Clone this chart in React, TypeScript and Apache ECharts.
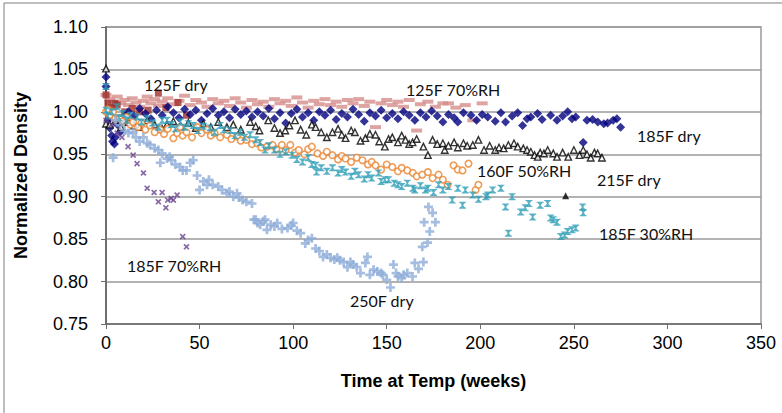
import React, { useEffect, useRef } from "react";
import * as echarts from "echarts";

const xTicks = [0, 50, 100, 150, 200, 250, 300, 350];
const yTicks = [0.75, 0.8, 0.85, 0.9, 0.95, 1.0, 1.05, 1.1];

const s185Fdry: number[][] = [
  [0, 1.041], [0, 1.03], [1, 0.99], [2, 0.981], [3, 0.972], [3.5, 0.965], [4.5, 0.962], [5, 0.97], [6, 0.985], [7.5, 0.976],
  [9, 0.99], [10, 0.996], [12, 1.0], [15, 0.995], [18, 1.004], [21, 0.998], [24, 0.992], [27, 1.002], [30, 0.996], [33, 1.006],
  [36, 0.999], [39, 0.993], [42, 1.003], [45, 0.997], [48, 1.002], [51, 0.99], [54, 0.998], [57, 1.004], [60, 0.996], [63, 1.0],
  [66, 0.993], [69, 1.003], [72, 0.997], [75, 1.001], [78, 0.994], [81, 1.0], [84, 0.995], [87, 1.004], [90, 0.992], [93, 0.999],
  [96, 0.987], [99, 0.998], [102, 1.003], [105, 0.994], [108, 0.999], [111, 0.99], [114, 1.0], [117, 0.996], [120, 1.002], [123, 0.991],
  [126, 0.998], [129, 0.994], [132, 1.003], [135, 0.997], [138, 0.989], [141, 0.999], [144, 0.995], [147, 1.002], [150, 0.993], [153, 0.998],
  [156, 0.992], [159, 1.0], [162, 0.996], [165, 0.99], [168, 0.999], [171, 0.994], [174, 1.001], [177, 0.995], [180, 0.988], [183, 0.997],
  [186, 0.993], [188, 0.988], [191, 0.999], [195, 0.996], [198, 0.99], [201, 0.997], [204, 0.994], [208, 0.989], [211, 0.999], [213.5, 0.988],
  [217, 0.995], [220, 0.999], [222.6, 0.984], [225, 0.992], [227, 0.994], [230.6, 0.998], [233, 0.991], [237.6, 0.996], [241, 0.99], [244, 0.995],
  [246.7, 1.0], [249, 0.992], [251, 0.994], [255, 0.964], [257, 0.99], [260, 0.991], [262.8, 0.988], [266, 0.986], [268, 0.987], [271, 0.99],
  [273, 0.992], [275, 0.982],
];

const s125Fdry: number[][] = [
  [0, 1.02], [1, 1.01], [3, 1.005], [4.8, 1.01], [6, 1.008], [10, 1.0], [14, 1.004], [18, 1.0], [22.5, 1.002], [28, 1.022],
  [32, 1.005], [38.5, 1.011], [43, 0.996],
];

const s125F70RH: number[][] = [
  [0, 1.02], [2, 1.015], [4, 1.012], [6, 1.018], [8, 1.01], [10, 1.014], [12, 1.008], [14, 1.016], [16, 1.011], [18, 1.006],
  [20, 1.013], [22, 1.018], [24, 1.01], [26, 1.015], [28, 1.007], [30, 1.012], [33, 1.016], [36, 1.009], [39, 1.013], [42, 1.019],
  [45, 1.008], [48, 1.014], [51, 1.011], [54, 1.006], [57, 1.015], [60, 1.01], [63, 1.013], [66, 1.007], [69, 1.016], [72, 1.011],
  [75, 1.005], [78, 1.014], [81, 1.009], [84, 1.012], [87, 1.006], [90, 1.015], [93, 1.01], [96, 1.013], [99, 1.007], [102, 1.017],
  [105, 1.011], [108, 1.005], [111, 1.013], [114, 1.009], [117, 1.015], [120, 1.008], [123, 1.012], [126, 1.006], [129, 1.014], [132, 1.01],
  [135, 1.015], [138, 1.007], [141, 1.012], [144, 0.982], [147, 1.01], [150, 1.014], [153, 1.008], [156, 1.012], [159, 1.006], [162, 1.014],
  [166, 0.978], [168, 1.009], [172, 1.012], [176, 1.006], [180, 1.01], [183, 1.01], [187, 1.005], [192, 1.008], [196, 0.99], [201, 1.01],
];

const s215Fdry: number[][] = [
  [0, 1.051], [0, 0.986], [2, 0.985], [5, 0.99], [8, 0.982], [12, 0.988], [15, 0.984], [18, 0.982], [22, 0.99], [26, 0.985],
  [30, 0.98], [32.6, 0.985], [36, 0.989], [40, 0.983], [44, 0.987], [48, 0.981], [52, 0.986], [56, 0.982], [60, 0.988], [64.6, 0.982],
  [68, 0.985], [72, 0.979], [77, 0.988], [80, 0.983], [82, 0.978], [86.7, 0.99], [90, 0.981], [93, 0.975], [95.8, 0.978], [98, 0.984],
  [101, 0.99], [104, 0.979], [107, 0.973], [110, 0.985], [112, 0.982], [115, 0.976], [118, 0.97], [121, 0.976], [124, 0.98], [126, 0.973],
  [128, 0.969], [131, 0.978], [133, 0.976], [136, 0.966], [138.6, 0.969], [141, 0.974], [144, 0.973], [146, 0.965], [149, 0.959], [151, 0.968],
  [153, 0.97], [156, 0.964], [158, 0.972], [160, 0.967], [162, 0.962], [163.8, 0.964], [166, 0.968], [169.6, 0.959], [172, 0.949], [174.5, 0.967],
  [177, 0.962], [180, 0.963], [181, 0.955], [183, 0.96], [186, 0.964], [188, 0.958], [191, 0.963], [193, 0.96], [196, 0.961], [199, 0.967],
  [202, 0.955], [205, 0.96], [208, 0.955], [210, 0.958], [212.5, 0.957], [215, 0.961], [218, 0.963], [220, 0.959], [223, 0.957], [225, 0.955],
  [227, 0.953], [229, 0.949], [230.7, 0.947], [232, 0.952], [234, 0.951], [236, 0.955], [239, 0.951], [241, 0.947], [244, 0.952], [247, 0.947],
  [250, 0.955], [253, 0.949], [255, 0.955], [257, 0.95], [259, 0.946], [261, 0.952], [262.7, 0.951], [265, 0.946],
];

const s215FdryFilled: number[][] = [[245.6, 0.901]];

const s160F50RH: number[][] = [
  [0, 1.0], [1, 1.003], [2, 0.996], [3.8, 1.0], [5, 0.992], [7.5, 0.993], [9, 0.989], [11, 0.994], [13, 0.985], [14.5, 0.988],
  [17, 0.982], [19, 0.987], [21, 0.979], [23.5, 0.984], [26, 0.976], [29, 0.979], [31, 0.974], [33, 0.98], [36, 0.969], [38, 0.975],
  [39.6, 0.982], [41, 0.972], [43, 0.976], [46, 0.97], [48.7, 0.982], [51, 0.975], [54, 0.979], [56, 0.972], [58, 0.975], [61, 0.97],
  [64.6, 0.973], [67, 0.968], [70, 0.971], [72, 0.966], [75, 0.967], [78, 0.962], [80.8, 0.963], [83, 0.958], [86, 0.959], [89, 0.961],
  [91, 0.956], [94, 0.961], [96, 0.955], [98.5, 0.961], [101, 0.952], [103, 0.955], [106, 0.95], [108, 0.956], [110, 0.959], [113, 0.951],
  [116, 0.948], [118, 0.953], [121, 0.949], [124, 0.944], [126, 0.948], [128, 0.945], [131, 0.941], [134, 0.946], [137, 0.943], [140, 0.938],
  [142, 0.941], [144, 0.937], [147, 0.932], [150, 0.938], [153, 0.935], [156, 0.93], [158, 0.934], [161, 0.931], [164, 0.928], [166, 0.924],
  [169, 0.926], [172, 0.929], [174.5, 0.922], [177.7, 0.926], [180, 0.92], [182.5, 0.914], [185.7, 0.937], [188, 0.932], [190.5, 0.931], [193.7, 0.939],
  [197.5, 0.908], [199, 0.914],
];

const s185F30RH: number[][] = [
  [0, 1.03], [0, 1.002], [1, 0.995], [3, 1.0], [5.8, 1.006], [7, 0.993], [9, 0.998], [11, 0.99], [13, 0.996], [16.6, 0.994],
  [19, 0.988], [22, 0.992], [25, 0.987], [28, 0.982], [30, 0.99], [32.6, 0.99], [35, 0.985], [37, 0.98], [39.6, 0.988], [42, 0.982],
  [44, 0.986], [46.6, 0.984], [49, 0.978], [52, 0.983], [55.7, 0.981], [58, 0.976], [61, 0.984], [63, 0.979], [66.4, 0.978], [69, 0.972],
  [71.7, 0.976], [74, 0.97], [77, 0.973], [80, 0.967], [82.4, 0.964], [85, 0.955], [87, 0.96], [90, 0.955], [93, 0.95], [96, 0.953],
  [99.5, 0.949], [102, 0.944], [105, 0.941], [108, 0.946], [110, 0.938], [112, 0.937], [112.5, 0.929], [115, 0.934], [118, 0.93], [121, 0.934],
  [124, 0.928], [126, 0.932], [128, 0.929], [131, 0.924], [133, 0.93], [135, 0.926], [138, 0.921], [140, 0.926], [142, 0.922], [145.6, 0.928],
  [147, 0.918], [149, 0.92], [151, 0.92], [154, 0.916], [156, 0.914], [158, 0.912], [161, 0.916], [164, 0.91], [165, 0.908], [168, 0.913],
  [170.7, 0.908], [172, 0.91], [175, 0.905], [177.7, 0.914], [180, 0.908], [183, 0.912], [185, 0.896], [188, 0.91], [190.5, 0.89], [192, 0.908],
  [196, 0.902], [199, 0.897], [203, 0.9], [204, 0.902], [206.6, 0.908], [211, 0.91], [213.5, 0.888], [215, 0.857], [217, 0.9], [221.6, 0.882],
  [224, 0.887], [226, 0.892], [228, 0.876], [232, 0.89], [236, 0.892], [237.6, 0.875], [239, 0.873], [241, 0.87], [243, 0.853], [245, 0.855],
  [246.7, 0.859], [249, 0.861], [251, 0.863], [254.7, 0.888], [255, 0.881],
];

const s185F70RH: number[][] = [
  [0, 0.99], [3, 0.985], [6, 0.975], [8.5, 0.97], [11.8, 0.959], [14.5, 0.949], [16.6, 0.939], [20, 0.928], [22, 0.91], [25.7, 0.905],
  [28, 0.894], [30, 0.905], [32, 0.887], [33, 0.896], [34.8, 0.898], [36, 0.896], [38, 0.902], [41, 0.853], [43, 0.841],
];

const s250Fdry: number[][] = [
  [3.8, 0.946], [5, 0.99], [7.5, 0.984], [10, 0.978], [12, 0.975], [14.5, 0.976], [16, 0.97], [18, 0.965], [20, 0.97], [22, 0.963],
  [23.5, 0.961], [26, 0.957], [28, 0.955], [29, 0.94], [30, 0.951], [32.6, 0.945], [34, 0.947], [35, 0.943], [37, 0.938], [39.6, 0.935],
  [41, 0.931], [43, 0.931], [45, 0.94], [46.6, 0.943], [48.7, 0.925], [50, 0.908], [52, 0.918], [54, 0.914], [55, 0.92], [57, 0.914],
  [60, 0.912], [62, 0.908], [64.6, 0.904], [66, 0.906], [68, 0.9], [70, 0.904], [71, 0.899], [73, 0.896], [75, 0.894], [78, 0.892],
  [79, 0.873], [80, 0.873], [81, 0.869], [82.4, 0.867], [84, 0.871], [85, 0.873], [86, 0.861], [88, 0.867], [90, 0.865], [91.5, 0.869],
  [94, 0.862], [97, 0.863], [99, 0.866], [100, 0.869], [102, 0.86], [104, 0.857], [106.5, 0.845], [108, 0.849], [110, 0.851], [112, 0.839],
  [114, 0.836], [116, 0.829], [118, 0.832], [120, 0.828], [122, 0.826], [123.6, 0.828], [125, 0.825], [127, 0.823], [129, 0.817], [130.6, 0.823],
  [132, 0.82], [134, 0.817], [136, 0.81], [138.6, 0.822], [139.7, 0.829], [141, 0.808], [143, 0.814], [145, 0.812], [147, 0.81], [148, 0.808],
  [150, 0.802], [152, 0.793], [153.6, 0.82], [155, 0.81], [156, 0.806], [158, 0.804], [159, 0.808], [161, 0.81], [163.8, 0.806], [165, 0.822],
  [167, 0.815], [169, 0.841], [169.6, 0.823], [170, 0.87], [171.8, 0.846], [172.3, 0.888], [173, 0.859], [174.5, 0.881], [176, 0.87],
];

const annotations = [
  { text: "125F dry", x: 144, y: 84 },
  { text: "125F 70%RH", x: 406, y: 89 },
  { text: "185F dry", x: 637, y: 135 },
  { text: "160F 50%RH", x: 477, y: 170 },
  { text: "215F dry", x: 597, y: 179 },
  { text: "185F 30%RH", x: 599, y: 233 },
  { text: "185F 70%RH", x: 127, y: 265 },
  { text: "250F dry", x: 350, y: 300 },
];

const PLUS = "path://M3.5,0 H6.5 V3.5 H10 V6.5 H6.5 V10 H3.5 V6.5 H0 V3.5 H3.5 Z";
const XMARK = "path://M3.8,0 H6.2 V3.8 H10 V6.2 H6.2 V10 H3.8 V6.2 H0 V3.8 H3.8 Z";
const STAR = "path://M0,0 H10 V1.6 H8.6 L5.9,5 L8.6,8.4 H10 V10 H0 V8.4 H1.4 L4.1,5 L1.4,1.6 H0 Z";

export default function App() {
  const ref = useRef<HTMLDivElement>(null);
  useEffect(() => {
    if (!ref.current) return;
    const chart = echarts.init(ref.current, null, { renderer: "svg" });
    const tickFont = { fontFamily: "Liberation Sans, Arial, sans-serif", fontSize: 18, color: "#000" };
    chart.setOption({
      animation: false,
      backgroundColor: "#fff",
      grid: { left: 106, right: 21, top: 27, bottom: 89, show: true, borderColor: "#9a9a9a", borderWidth: 1.5 },
      xAxis: {
        type: "value",
        min: 0,
        max: 350,
        interval: 50,
        name: "Time at Temp (weeks)",
        nameLocation: "middle",
        nameGap: 48,
        nameTextStyle: { fontFamily: "Liberation Sans, Arial, sans-serif", fontSize: 18, fontWeight: "bold", color: "#000" },
        axisLine: { show: true, onZero: false, lineStyle: { color: "#6e6e6e", width: 1.5 } },
        axisTick: { show: true, length: 5, lineStyle: { color: "#6e6e6e" } },
        axisLabel: { ...tickFont, margin: 10, formatter: (v: number) => (xTicks.includes(v) ? String(v) : "") },
        splitLine: { show: false },
      },
      yAxis: {
        type: "value",
        min: 0.75,
        max: 1.1,
        interval: 0.05,
        name: "Normalized Density",
        nameLocation: "middle",
        nameGap: 76,
        nameRotate: 90,
        nameTextStyle: { fontFamily: "Liberation Sans, Arial, sans-serif", fontSize: 18, fontWeight: "bold", color: "#000" },
        axisLine: { show: true, onZero: false, lineStyle: { color: "#6e6e6e", width: 2 } },
        axisTick: { show: true, length: 5, lineStyle: { color: "#6e6e6e" } },
        axisLabel: {
          ...tickFont,
          margin: 18,
          formatter: (v: number) => {
            const t = yTicks.find((k) => Math.abs(k - v) < 1e-6);
            return t === undefined ? "" : t.toFixed(2);
          },
        },
        splitLine: { show: true, lineStyle: { color: "#9a9a9a", width: 1.5 } },
      },
      series: [
        {
          name: "125F 70%RH", type: "scatter", data: s125F70RH, symbol: "rect", symbolSize: [11, 4],
          itemStyle: { color: "#d58d8b" },
        },
        {
          name: "125F dry", type: "scatter", data: s125Fdry, symbol: "rect", symbolSize: 7,
          itemStyle: { color: "#a0302c" },
        },
        {
          name: "185F dry", type: "scatter", data: s185Fdry, symbol: "diamond", symbolSize: 9,
          itemStyle: { color: "#00007e" },
        },
        {
          name: "215F dry", type: "scatter", data: s215Fdry, symbol: "triangle", symbolSize: 6.5,
          itemStyle: { color: "#fff", borderColor: "#000", borderWidth: 1.4 },
        },
        {
          name: "215F dry b", type: "scatter", data: s215FdryFilled, symbol: "triangle", symbolSize: 7,
          itemStyle: { color: "#000" },
        },
        {
          name: "160F 50%RH", type: "scatter", data: s160F50RH, symbol: "circle", symbolSize: 6.5,
          itemStyle: { color: "#fff", borderColor: "#e8852f", borderWidth: 1.6 },
        },
        {
          name: "185F 30%RH", type: "scatter", data: s185F30RH, symbol: STAR, symbolSize: 7,
          itemStyle: { color: "#2f9db6" },
        },
        {
          name: "185F 70%RH", type: "scatter", data: s185F70RH, symbol: XMARK, symbolSize: 7, symbolRotate: 45,
          itemStyle: { color: "#6a4490" },
        },
        {
          name: "250F dry", type: "scatter", data: s250Fdry, symbol: PLUS, symbolSize: 9,
          itemStyle: { color: "#8fadd8" },
        },
      ],
      graphic: [
        {
          type: "rect", z: 100, silent: true,
          shape: { x: 4, y: 3, width: 820, height: 440 },
          style: { fill: "none", stroke: "#7f7f7f", lineWidth: 1 },
        },
        ...annotations.map((a) => ({
          type: "text", x: a.x, y: a.y, z: 100,
          style: {
            text: a.text, fill: "#111", font: "16px Lato, 'Open Sans', sans-serif",
            textAlign: "left", textVerticalAlign: "middle", align: "left", verticalAlign: "middle",
          },
        })),
      ],
    });
    return () => chart.dispose();
  }, []);
  return (
    <div
      ref={ref}
      style={{ position: "fixed", left: 0, top: 0, width: 782, height: 413, background: "#fff" }}
    />
  );
}
